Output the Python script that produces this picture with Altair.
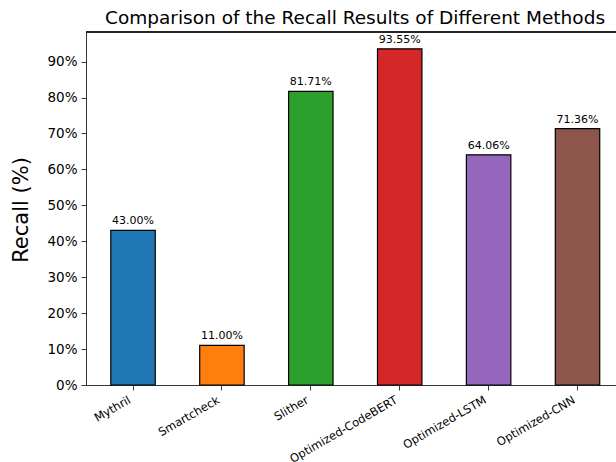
import altair as alt
import pandas as pd

methods = ["Mythril", "Smartcheck", "Slither", "Optimized-CodeBERT", "Optimized-LSTM", "Optimized-CNN"]
recall = [43.00, 11.00, 81.71, 93.55, 64.06, 71.36]
colors = ["#1f77b4", "#ff7f0e", "#2ca02c", "#d62728", "#9467bd", "#8c564b"]
y_ticks = [0, 10, 20, 30, 40, 50, 60, 70, 80, 90]

df = pd.DataFrame({"method": methods, "recall": recall})
df["label"] = [f"{v:.2f}%" for v in recall]

FONT = "DejaVu Sans"
W, H = 530, 353

x_enc = alt.X(
    "method:N",
    sort=methods,
    scale=alt.Scale(paddingInner=0.5, paddingOuter=0.231, align=0.604),
    axis=alt.Axis(
        title=None,
        labelAngle=-30,
        labelAlign="right",
        labelBaseline="top",
        labelFont=FONT,
        labelFontSize=11.5,
        labelColor="black",
        labelPadding=4,
        labelOffset=-6,
        tickSize=5,
        tickColor="#222",
        tickWidth=0.9,
        domainColor="#222",
        domainWidth=0.9,
        grid=False,
    ),
)
y_enc = alt.Y(
    "recall:Q",
    scale=alt.Scale(domain=[0, 98.23], nice=False, zero=True),
    axis=alt.Axis(
        values=y_ticks,
        labelExpr="datum.value + '%'",
        labelOverlap=False,
        title="Recall (%)",
        titleFont=FONT,
        titleFontSize=21,
        titleFontWeight="normal",
        titleColor="black",
        titleX=-65,
        titleY=H / 2 + 1,
        titleAngle=-90,
        titleAlign="center",
        titleBaseline="middle",
        labelFont=FONT,
        labelFontSize=13.5,
        labelColor="black",
        labelPadding=4,
        tickSize=5,
        tickColor="#222",
        tickWidth=0.9,
        domainColor="#222",
        domainWidth=0.9,
        grid=False,
    ),
)

base = alt.Chart(df).encode(x=x_enc, y=y_enc)

bars = base.mark_bar(stroke="black", strokeWidth=1.2).encode(
    color=alt.Color("method:N", sort=methods,
                    scale=alt.Scale(domain=methods, range=colors), legend=None),
)

labels = base.mark_text(
    baseline="bottom", dy=-4, font=FONT, fontSize=11, color="black"
).encode(text="label:N")

top_spine = alt.Chart(df).mark_rule(color="#222", strokeWidth=0.9).encode(
    x=alt.value(0), x2=alt.value(W), y=alt.value(0)
)

chart = alt.layer(bars, labels, top_spine).properties(
    width=W,
    height=H,
    title=alt.TitleParams(
        "Comparison of the Recall Results of Different Methods",
        font=FONT, fontSize=18.5, fontWeight="normal", color="black",
        anchor="middle", dx=4, dy=17, offset=6, baseline="alphabetic",
    ),
    autosize=alt.AutoSizeParams(type="none"),
    padding={"left": 86, "top": 32, "right": 0, "bottom": 77},
).configure_view(stroke=None).configure(background="white")

chart.save("out.html", embed_options={"renderer": "svg", "actions": False})
